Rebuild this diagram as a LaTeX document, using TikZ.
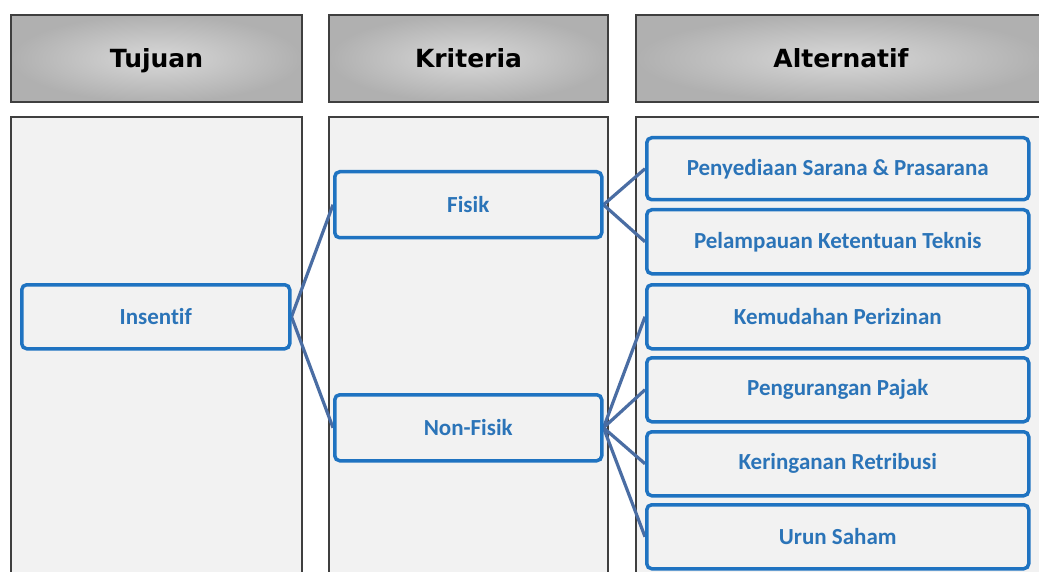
\documentclass[tikz,border=0pt]{standalone}
\usepackage{fontspec}
\setmainfont{Carlito}[Ligatures=NoCommon]
\newfontfamily\headfont{DejaVu Sans}[Ligatures=NoCommon]
\pgfdeclarelayer{panels}
\pgfdeclarelayer{links}
\pgfsetlayers{panels,links,main}
\definecolor{panelfill}{HTML}{F2F2F2}
\definecolor{panelline}{HTML}{3F3F3F}
\definecolor{boxline}{HTML}{1F73C1}
\definecolor{boxtext}{HTML}{2B74B8}
\definecolor{linkcol}{HTML}{4A6DA3}
\definecolor{headin}{HTML}{D8D8D8}
\definecolor{headout}{HTML}{B0B0B0}
\tikzset{
  x=1pt, y=-1pt,
  panel/.style={fill=panelfill, draw=panelline, line width=1.2pt},
  header/.style={inner color=headin, outer color=headout, draw=panelline, line width=1.4pt},
  headtext/.style={font=\headfont\bfseries\fontsize{25}{28}\selectfont, text=black, anchor=base},
  item/.style={draw=boxline, line width=3.5pt, rounded corners=5pt, fill=panelfill,
    text=boxtext, font=\bfseries\fontsize{23}{26}\selectfont, inner sep=0pt, anchor=north west},
  link/.style={draw=linkcol, line width=3.2pt}
}
\begin{document}
\begin{tikzpicture}
\useasboundingbox (0,0) rectangle (1039,572);
\begin{pgfonlayer}{panels}
% headers
\path[header] (11,15) rectangle (302,102);
\path[header] (329,15) rectangle (608,102);
\path[header] (636,15) rectangle (1046,102);
% panels
\path[panel] (11,117) rectangle (302,585);
\path[panel] (329,117) rectangle (608,585);
\path[panel] (636,117) rectangle (1050,585);
\end{pgfonlayer}
\node[headtext] (h1) at (156.5,68) {Tujuan};
\node[headtext] (h2) at (468.5,68) {Kriteria};
\node[headtext] (h3) at (841,68) {Alternatif};
% nodes
\node[item, minimum width=268pt, minimum height=64pt] (ins) at (20,283) {Insentif};
\node[item, minimum width=267pt, minimum height=66pt] (fis) at (333,170) {Fisik};
\node[item, minimum width=267pt, minimum height=66pt] (non) at (333,393) {Non-Fisik};
\node[item, minimum width=382pt, minimum height=62pt] (a1) at (645,136) {Penyediaan Sarana \& Prasarana};
\node[item, minimum width=382pt, minimum height=64pt] (a2) at (645,208) {Pelampauan Ketentuan Teknis};
\node[item, minimum width=382pt, minimum height=64pt] (a3) at (645,283) {Kemudahan Perizinan};
\node[item, minimum width=382pt, minimum height=64pt] (a4) at (645,356) {Pengurangan Pajak};
\node[item, minimum width=382pt, minimum height=64pt] (a5) at (645,430) {Keringanan Retribusi};
\node[item, minimum width=382pt, minimum height=64pt] (a6) at (645,503) {Urun Saham};
% links, behind the boxes but above the panels
\begin{pgfonlayer}{links}
\draw[link] (ins.east) -- (fis.west);
\draw[link] (ins.east) -- (non.west);
\draw[link] (fis.east) -- (a1.west);
\draw[link] (fis.east) -- (a2.west);
\draw[link] (non.east) -- (a3.west);
\draw[link] (non.east) -- (a4.west);
\draw[link] (non.east) -- (a5.west);
\draw[link] (non.east) -- (a6.west);
\end{pgfonlayer}
\end{tikzpicture}
\end{document}
